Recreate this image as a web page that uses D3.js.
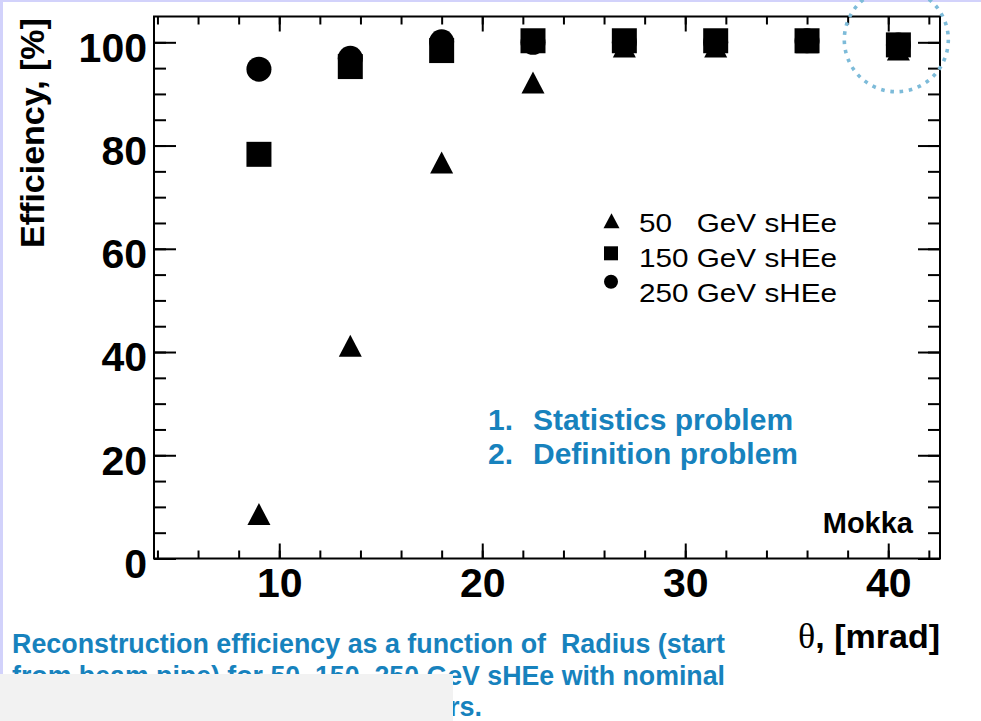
<!DOCTYPE html>
<html>
<head>
<meta charset="utf-8">
<script src="https://cdn.jsdelivr.net/npm/d3@7"></script>
<style>
  html, body { margin: 0; padding: 0; background: #ffffff; }
  svg { display: block; }
  text { white-space: pre; }
</style>
</head>
<body>
<svg id="chart" width="981" height="721"></svg>
<script>
// Reconstruction efficiency vs polar angle for three sHEe energies
const theta = [9, 13.5, 18, 22.5, 27, 31.5, 36, 40.5];
const eff50 = [8.6, 41.2, 76.7, 92.2, 99.2, 99.2, 100, 98.6];
const eff150 = [78.3, 95.3, 98.4, 100.3, 100.3, 100.3, 100.3, 99.5];
const eff250 = [94.8, 96.9, 100.1, 100, 100, 100, 100.3, 99.5];

const legendLabels = ["50   GeV sHEe", "150 GeV sHEe", "250 GeV sHEe"];
const xMajorTicks = [10, 20, 30, 40];
const xMinorTicks = d3.range(4, 43, 2);
const yMajorTicks = [0, 20, 40, 60, 80, 100];
const yMinorTicks = d3.range(0, 105, 5);
const notes = ["1.", "2."];
const noteTexts = ["Statistics problem", "Definition problem"];
const captionLines = [
  "Reconstruction efficiency as a function of  Radius (start",
  "from beam pipe) for 50, 150, 250 GeV sHEe with nominal",
  "and standard LumiCal sensors."
];

const SANS = "'Liberation Sans', Arial, Helvetica, sans-serif";
const SERIF = "'Liberation Serif', 'Times New Roman', serif";
const BLUE = "#1782bd";

const svg = d3.select("#chart");
svg.append("rect").attr("width", 981).attr("height", 721).attr("fill", "#ffffff");

// page edges
svg.append("rect").attr("x", 0).attr("y", 0).attr("width", 981).attr("height", 2).attr("fill", "#d2d2fb");
svg.append("rect").attr("x", 0).attr("y", 0).attr("width", 3).attr("height", 674).attr("fill", "#d2d2fb");

const plot = { left: 154, right: 940, top: 16.5, bottom: 558.5 };
const x = d3.scaleLinear().domain([3.83, 42.55]).range([plot.left, plot.right]);
const y = d3.scaleLinear().domain([0, 105]).range([plot.bottom, plot.top]);

function styleAxis(g) {
  g.select(".domain").remove();
  g.selectAll(".tick line").attr("stroke", "#000").attr("stroke-width", 2);
}

// minor ticks
svg.append("g").attr("transform", `translate(0,${plot.bottom})`)
  .call(d3.axisBottom(x).tickValues(xMinorTicks).tickSize(-8).tickFormat(""))
  .call(styleAxis);
svg.append("g").attr("transform", `translate(0,${plot.top})`)
  .call(d3.axisTop(x).tickValues(xMinorTicks).tickSize(-8).tickFormat(""))
  .call(styleAxis);
svg.append("g").attr("transform", `translate(${plot.left},0)`)
  .call(d3.axisLeft(y).tickValues(yMinorTicks).tickSize(-12).tickFormat(""))
  .call(styleAxis);
svg.append("g").attr("transform", `translate(${plot.right},0)`)
  .call(d3.axisRight(y).tickValues(yMinorTicks).tickSize(-12).tickFormat(""))
  .call(styleAxis);

// major ticks with labels
const xAxis = svg.append("g").attr("transform", `translate(0,${plot.bottom})`)
  .call(d3.axisBottom(x).tickValues(xMajorTicks).tickSize(-15).tickPadding(9).tickFormat(d3.format("d")))
  .call(styleAxis);
xAxis.selectAll("text").attr("font-family", SANS).attr("font-weight", "bold")
  .attr("font-size", 41).attr("fill", "#000");
svg.append("g").attr("transform", `translate(0,${plot.top})`)
  .call(d3.axisTop(x).tickValues(xMajorTicks).tickSize(-15).tickFormat(""))
  .call(styleAxis);

const yAxis = svg.append("g").attr("transform", `translate(${plot.left},0)`)
  .call(d3.axisLeft(y).tickValues(yMajorTicks).tickSize(-22).tickPadding(7).tickFormat(d3.format("d")))
  .call(styleAxis);
yAxis.selectAll("text").attr("font-family", SANS).attr("font-weight", "bold")
  .attr("font-size", 41).attr("fill", "#000").attr("dy", "0.46em");
svg.append("g").attr("transform", `translate(${plot.right},0)`)
  .call(d3.axisRight(y).tickValues(yMajorTicks).tickSize(-22).tickFormat(""))
  .call(styleAxis);

// frame
svg.append("rect")
  .attr("x", plot.left).attr("y", plot.top)
  .attr("width", plot.right - plot.left).attr("height", plot.bottom - plot.top)
  .attr("fill", "none").attr("stroke", "#000").attr("stroke-width", 2);

// marker shapes
function trianglePath(w, h) {
  return `M0,${-h / 2}L${w / 2},${h / 2}L${-w / 2},${h / 2}Z`;
}
function squarePath(s) {
  return `M${-s / 2},${-s / 2}h${s}v${s}h${-s}Z`;
}
function circlePath(d) {
  const r = d / 2;
  return `M${r},0A${r},${r} 0 1,1 ${-r},0A${r},${r} 0 1,1 ${r},0Z`;
}

const series = [
  { values: eff50, path: trianglePath(23, 22), legendPath: trianglePath(16, 15) },
  { values: eff150, path: squarePath(25), legendPath: squarePath(14) },
  { values: eff250, path: circlePath(25), legendPath: circlePath(14) }
];

const markers = svg.append("g");
series.forEach(s => {
  markers.append("g").selectAll("path")
    .data(s.values.map((v, i) => ({ t: theta[i], v })))
    .join("path")
    .attr("d", s.path)
    .attr("transform", d => `translate(${x(d.t)},${y(d.v)})`)
    .attr("fill", "#000");
});

// legend
const legendMarkerPos = [[611.5, 220.7], [611, 253.3], [611, 281.7]];
const legendBaselines = [231.5, 266.5, 301.5];
const legend = svg.append("g");
series.forEach((s, i) => {
  legend.append("path").attr("d", s.legendPath)
    .attr("transform", `translate(${legendMarkerPos[i][0]},${legendMarkerPos[i][1]})`)
    .attr("fill", "#000");
  legend.append("text")
    .attr("x", 639).attr("y", legendBaselines[i])
    .attr("font-family", SANS).attr("font-size", 26).attr("fill", "#000")
    .attr("textLength", 198).attr("lengthAdjust", "spacingAndGlyphs")
    .text(legendLabels[i]);
});

// annotations inside the frame
const noteBaselines = [430, 464];
notes.forEach((n, i) => {
  svg.append("text").attr("x", 488).attr("y", noteBaselines[i])
    .attr("font-family", SANS).attr("font-weight", "bold").attr("font-size", 30)
    .attr("fill", BLUE).text(n);
  svg.append("text").attr("x", 533).attr("y", noteBaselines[i])
    .attr("font-family", SANS).attr("font-weight", "bold").attr("font-size", 30)
    .attr("fill", BLUE).text(noteTexts[i]);
});

svg.append("text").attr("x", 913).attr("y", 533).attr("text-anchor", "end")
  .attr("font-family", SANS).attr("font-weight", "bold").attr("font-size", 29)
  .attr("fill", "#000").text("Mokka");

// axis titles
svg.append("text")
  .attr("transform", "translate(44,133) rotate(-90)")
  .attr("text-anchor", "middle")
  .attr("font-family", SANS).attr("font-weight", "bold").attr("font-size", 34)
  .attr("fill", "#000").text("Efficiency, [%]");

const xTitle = svg.append("text").attr("x", 940).attr("y", 648).attr("text-anchor", "end")
  .attr("fill", "#000");
xTitle.append("tspan").attr("font-family", SERIF).attr("font-size", 36).text("θ");
xTitle.append("tspan").attr("font-family", SANS).attr("font-weight", "bold").attr("font-size", 34)
  .text(", [mrad]");

// caption below the plot
const captionBaselines = [653, 685, 716];
captionLines.forEach((line, i) => {
  const t = svg.append("text").attr("y", captionBaselines[i])
    .attr("font-family", SANS).attr("font-weight", "bold").attr("font-size", 27)
    .attr("fill", BLUE).text(line);
  if (i < 2) {
    t.attr("x", 12).attr("textLength", 713).attr("lengthAdjust", "spacingAndGlyphs");
  } else {
    t.attr("x", 482).attr("text-anchor", "end");
  }
});

// grey panel over the lower left corner
svg.append("rect").attr("x", 0).attr("y", 674).attr("width", 453).attr("height", 47).attr("fill", "#f2f2f2");

// dotted highlight ring around the last point
svg.append("circle")
  .attr("cx", 896.3).attr("cy", 39.7).attr("r", 52)
  .attr("fill", "none").attr("stroke", "#7dbbd9").attr("stroke-width", 3.6)
  .attr("stroke-dasharray", "3.6 5.73");
</script>
</body>
</html>
